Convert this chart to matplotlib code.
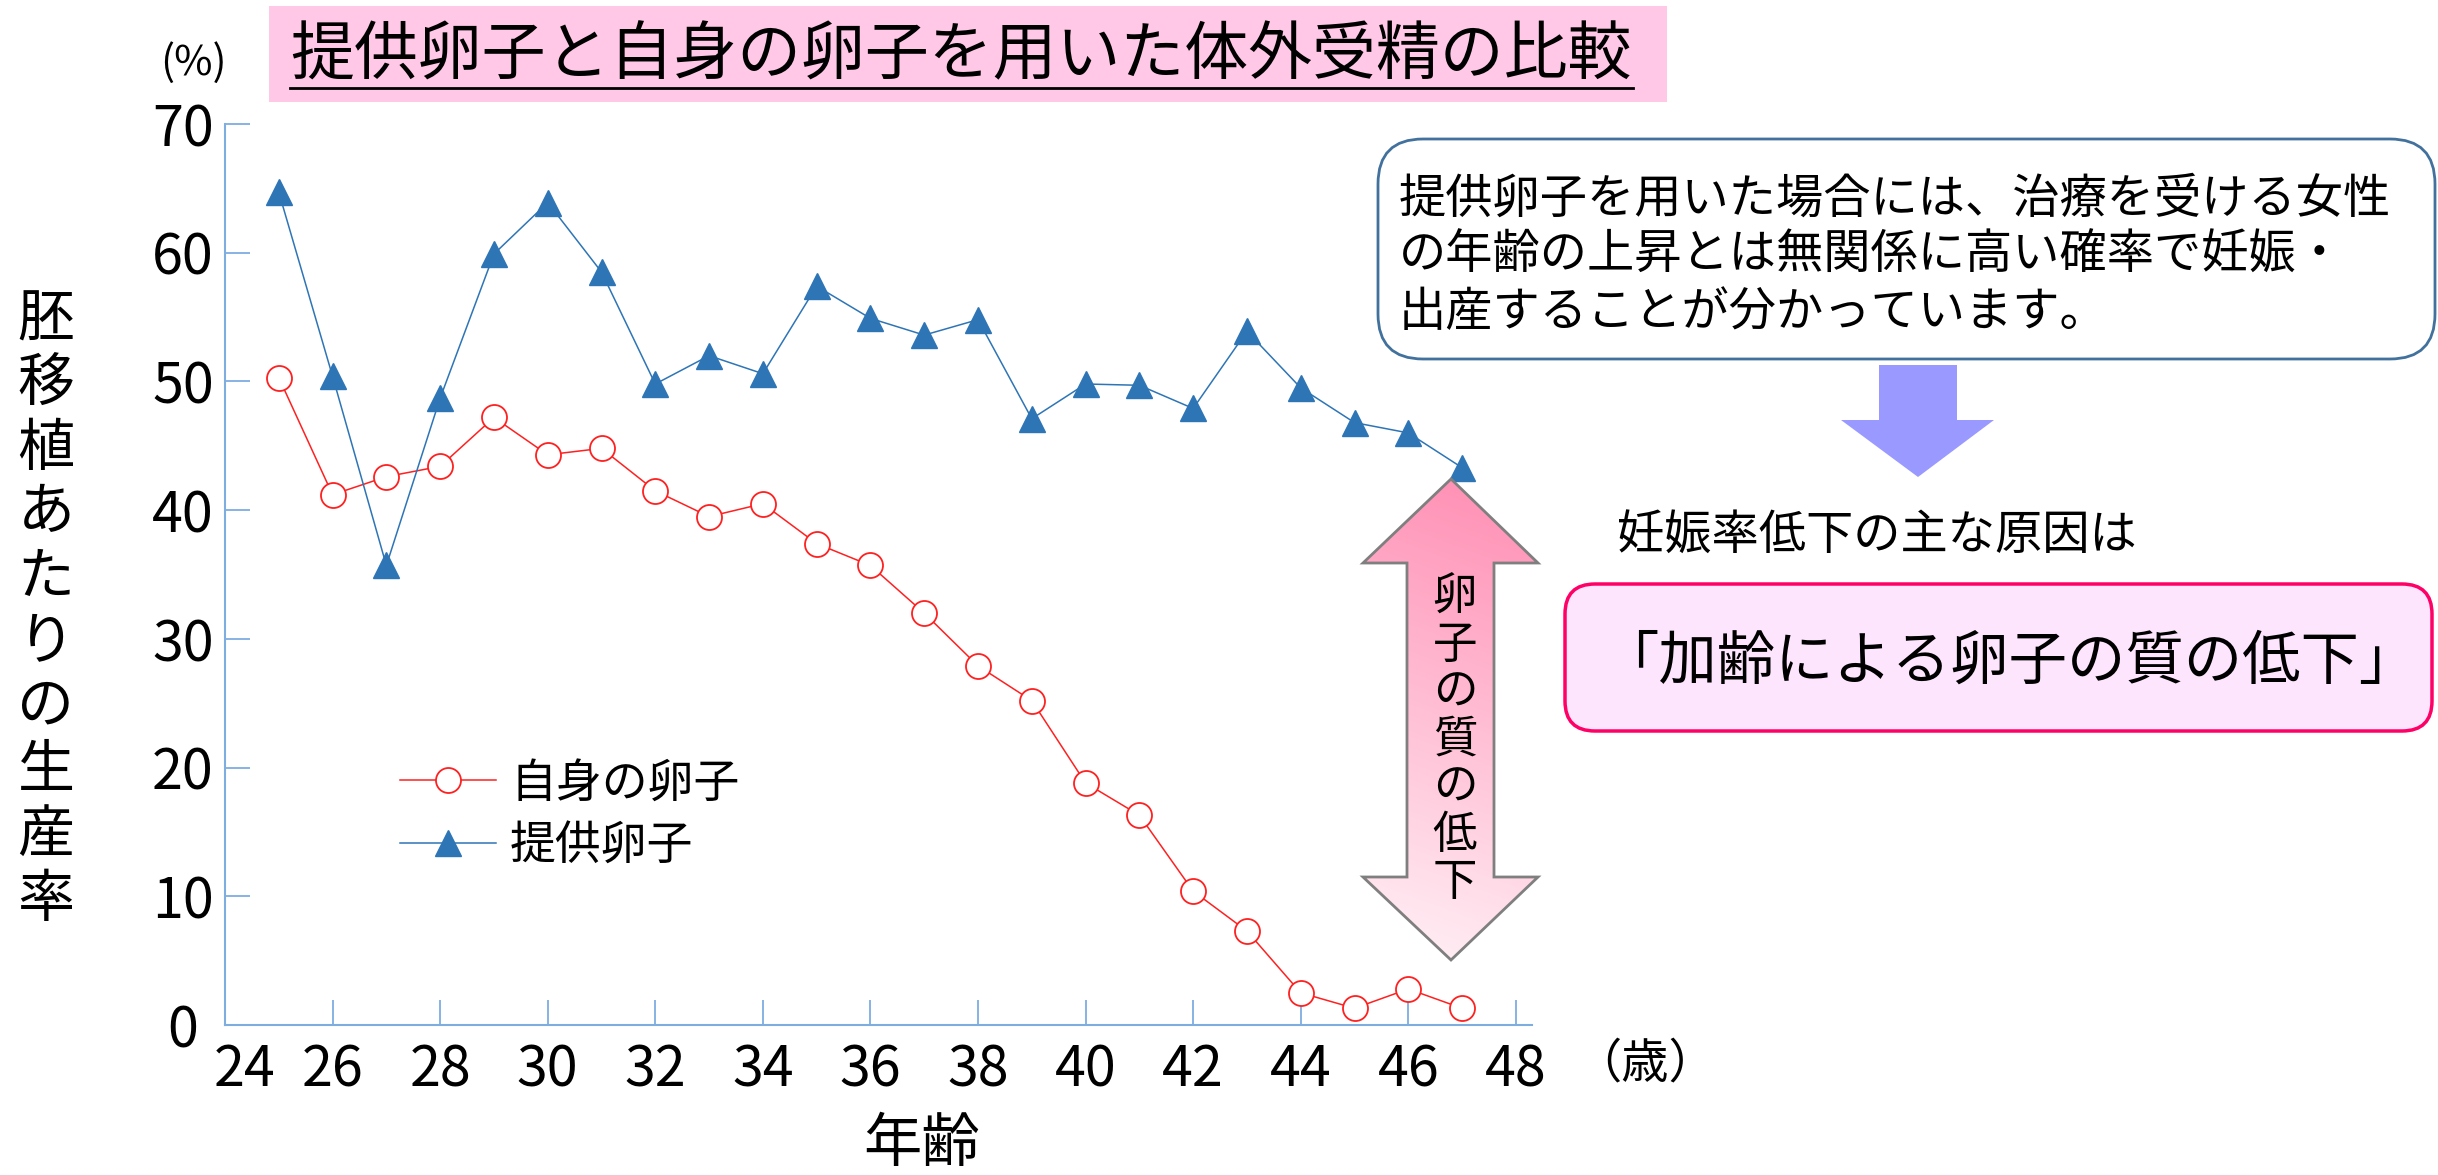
import matplotlib
matplotlib.use("Agg")
import matplotlib.pyplot as plt
import matplotlib.transforms as mtransforms
import numpy as np
from matplotlib.patches import FancyBboxPatch, Polygon, Rectangle

plt.rcParams['font.family'] = ['Noto Sans CJK JP', 'DejaVu Sans']

# figure size in pixels (dpi 100)
W, H = 2438, 1175

# data (age vs live birth rate per embryo transfer, %)
ages = list(range(25, 48))
own_eggs = [50.3, 41.2, 42.6, 43.4, 47.2, 44.3, 44.8, 41.5, 39.5, 40.5, 37.4, 35.7,
            32.0, 27.9, 25.2, 18.8, 16.3, 10.4, 7.3, 2.5, 1.3, 2.8, 1.3]
donor_eggs = [64.7, 50.4, 35.7, 48.7, 59.9, 63.9, 58.5, 49.8, 52.0, 50.6, 57.4, 54.9,
              53.6, 54.8, 47.1, 49.8, 49.7, 47.9, 53.9, 49.5, 46.8, 46.0, 43.3]
series_labels = ['自身の卵子', '提供卵子']
x_ticks = list(range(24, 49, 2))
y_ticks = list(range(0, 71, 10))

title = '提供卵子と自身の卵子を用いた体外受精の比較'
ylabel = '胚移植あたりの生産率'
note_lines = ['提供卵子を用いた場合には、治療を受ける女性',
              'の年齢の上昇とは無関係に高い確率で妊娠・',
              '出産することが分かっています。']
cause_intro = '妊娠率低下の主な原因は'
cause_text = '「加齢による卵子の質の低下」'
arrow_text = '卵子の質の低下'

axis_blue = '#7EADE0'

fig = plt.figure(figsize=(W / 100, H / 100), dpi=100)
fig.patch.set_facecolor('white')

# main chart
ax = fig.add_axes([225 / W, 1 - 1025 / H, 1307 / W, 901 / H])
ax.plot(ages, own_eggs, color='#FF2020', lw=1.1, marker='o', ms=18,
        mfc='white', mec='#FF2020', mew=1.3, label=series_labels[0], zorder=3)
ax.plot(ages, donor_eggs, color='#2E75B6', lw=1.1, marker='^', ms=19,
        mfc='#2E75B6', mec='#2E75B6', label=series_labels[1], zorder=4)
ax.set_xlim(24, 48.3)
ax.set_ylim(0, 70)
ax.set_xticks(x_ticks)
ax.set_yticks(y_ticks)
for s in ['top', 'right']:
    ax.spines[s].set_visible(False)
for s in ['left', 'bottom']:
    ax.spines[s].set_color(axis_blue)
    ax.spines[s].set_linewidth(1.5)
ax.tick_params(axis='both', direction='in', length=18, width=1.3, color=axis_blue,
               labelsize=40)
ax.tick_params(axis='y', pad=8)
ax.tick_params(axis='x', pad=12)
ax.patch.set_alpha(0)

# nudge the corner labels apart like in the original ("0" left, "24" right)
t0 = ax.yaxis.get_major_ticks()[0].label1
t0.set_transform(t0.get_transform() + mtransforms.ScaledTranslation(-16 / 100, 0, fig.dpi_scale_trans))
t24 = ax.xaxis.get_major_ticks()[0].label1
t24.set_transform(t24.get_transform() + mtransforms.ScaledTranslation(20 / 100, 0, fig.dpi_scale_trans))

leg = ax.legend(loc='upper left', bbox_to_anchor=(400 / W, 1 - 759 / H),
                bbox_transform=fig.transFigure, frameon=False, fontsize=33,
                handlelength=2.1, handletextpad=0.3, labelspacing=0.3,
                borderpad=0, borderaxespad=0, numpoints=1)

# overlay in pixel coordinates for the annotations
ov = fig.add_axes([0, 0, 1, 1], zorder=5)
ov.set_xlim(0, W)
ov.set_ylim(H, 0)
ov.axis('off')
ov.patch.set_alpha(0)

# title box
ov.add_patch(Rectangle((269, 6), 1398, 96, fc='#FFC8E6', ec='none'))
ov.text(290, 56, title, fontsize=46, ha='left', va='center')
ov.plot([290, 1633], [88, 88], color='black', lw=2)

ov.text(193, 63, '(%)', fontsize=30, ha='center', va='center')
ov.text(922, 1145, '年齢', fontsize=42, ha='center', va='center')
ov.text(1645, 1064, '（歳）', fontsize=34, ha='center', va='center')

# stacked vertical y label
for i, ch in enumerate(ylabel):
    ov.text(46, 320 + i * 64.4, ch, fontsize=41, ha='center', va='center')

# note box
ov.add_patch(FancyBboxPatch((1378, 139), 1057, 220,
                            boxstyle='round,pad=0,rounding_size=45',
                            fc='white', ec='#41719C', lw=2))
for i, line in enumerate(note_lines):
    ov.text(1399, 199 + i * 57, line, fontsize=34, ha='left', va='center')

# down arrow
ov.add_patch(Polygon([(1879, 365), (1957, 365), (1957, 420), (1994, 420),
                      (1918, 477), (1841, 420), (1879, 420)],
                     closed=True, fc='#9999FF', ec='none'))

ov.text(1617, 536, cause_intro, fontsize=34, ha='left', va='center')

ov.add_patch(FancyBboxPatch((1565, 584), 867, 147,
                            boxstyle='round,pad=0,rounding_size=30',
                            fc='#FDE6FD', ec='#FF0066', lw=2.5))
ov.text(1600, 662, cause_text, fontsize=42, ha='left', va='center')

# double-headed gradient arrow
arrow_pts = [(1451, 479), (1538, 563), (1494, 563), (1494, 877), (1538, 877),
             (1451, 960), (1363, 877), (1407, 877), (1407, 563), (1363, 563)]
arrow = Polygon(arrow_pts, closed=True, fc='none', ec='#7F7F7F', lw=2, zorder=3)
ov.add_patch(arrow)
top_c = np.array([255, 140, 178]) / 255
bot_c = np.array([255, 240, 246]) / 255
ty = np.linspace(0, 1, 200)[:, None]
tx = np.linspace(0, 1, 60)[None, :]
t = np.clip(ty * 0.9 + (1 - tx) * 0.12, 0, 1)
grad = top_c[None, None, :] * (1 - t[..., None]) + bot_c[None, None, :] * t[..., None]
im = ov.imshow(grad, extent=(1363, 1538, 960, 479), origin='upper',
               aspect='auto', zorder=2, interpolation='bilinear')
clip = Polygon(arrow_pts, closed=True, fc='none', ec='none', transform=ov.transData)
ov.add_patch(clip)
im.set_clip_path(clip)
ov.set_xlim(0, W)
ov.set_ylim(H, 0)

for i, ch in enumerate(arrow_text):
    ov.text(1455, 597 + i * 47.5, ch, fontsize=32, ha='center', va='center', zorder=4)

fig.savefig('out.png', dpi=100)
